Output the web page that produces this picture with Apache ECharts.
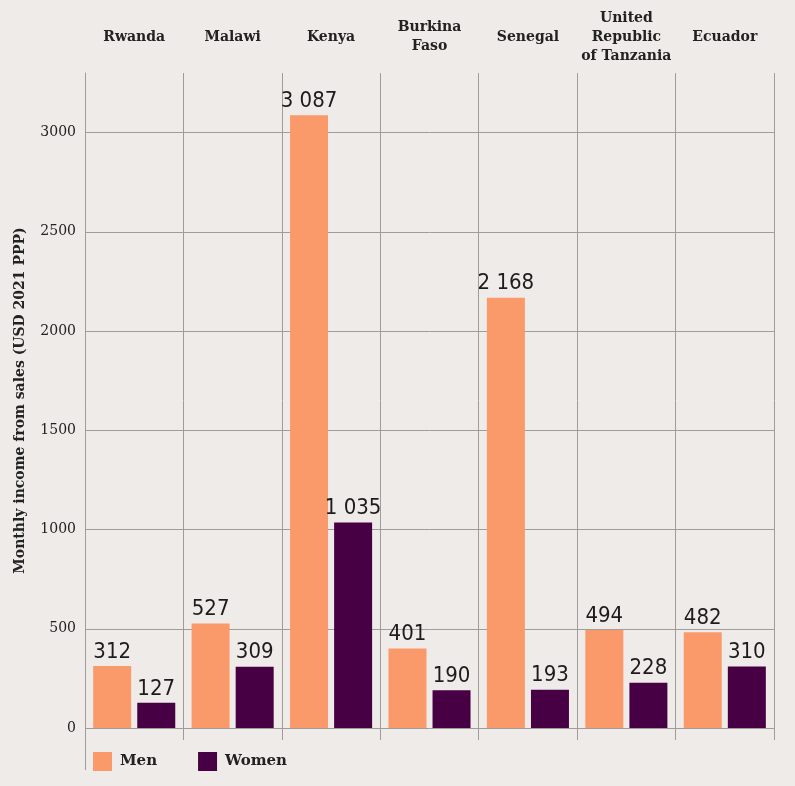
<!DOCTYPE html>
<html>
<head>
<meta charset="utf-8">
<script src="https://cdn.jsdelivr.net/npm/echarts@6/dist/echarts.min.js"></script>
<style>
  html, body { margin: 0; padding: 0; background: #efebe8; }
  #chart { width: 795px; height: 786px; }
</style>
</head>
<body>
<div id="chart"></div>
<script>
const countries = ['Rwanda', 'Malawi', 'Kenya', 'Burkina\nFaso', 'Senegal', 'United\nRepublic\nof Tanzania', 'Ecuador'];
const men = [312, 527, 3087, 401, 2168, 494, 482];
const women = [127, 309, 1035, 190, 193, 228, 310];
const yTicks = [0, 500, 1000, 1500, 2000, 2500, 3000];

const serif = "'DejaVu Serif', 'Liberation Serif', serif";
const narrow = "'Liberation Sans Narrow', 'DejaVu Sans Condensed', 'Roboto', sans-serif";
const grey = '#a09c99';

function fmt(v) {
  return String(v).replace(/\B(?=(\d{3})+(?!\d))/g, ' ');
}

const chart = echarts.init(document.getElementById('chart'), null, { renderer: 'canvas' });

const valueLabel = {
  show: true,
  position: 'top',
  distance: 3,
  fontFamily: narrow,
  fontWeight: 300,
  fontSize: 22,
  color: '#1c1c1c',
  formatter: p => fmt(p.value)
};

chart.setOption({
  animation: false,
  backgroundColor: '#efebe8',
  grid: { left: 85, right: 21, top: 73, bottom: 58 },
  legend: {
    left: 93,
    top: 752,
    padding: 0,
    itemWidth: 19,
    itemHeight: 19,
    itemGap: 41,
    icon: 'rect',
    textStyle: { fontFamily: serif, fontWeight: 'bold', fontSize: 15, color: '#222', padding: [0, 0, 0, 3] },
    data: ['Men', 'Women']
  },
  xAxis: [
    {
      type: 'category',
      position: 'top',
      data: countries,
      axisLine: { show: false },
      axisTick: { show: false },
      splitLine: { show: true, interval: 0, lineStyle: { color: grey, width: 1 } },
      axisLabel: {
        interval: 0,
        margin: 36,
        verticalAlign: 'middle',
        lineHeight: 19,
        fontFamily: serif,
        fontWeight: 'bold',
        fontSize: 14,
        color: '#222'
      }
    },
    {
      type: 'category',
      position: 'bottom',
      data: countries,
      axisLine: { show: false },
      axisTick: { show: true, interval: 0, length: 12, lineStyle: { color: grey, width: 1 } },
      axisLabel: { show: false }
    }
  ],
  yAxis: {
    type: 'value',
    min: 0,
    max: 3300,
    interval: 500,
    name: 'Monthly income from sales (USD 2021 PPP)',
    nameLocation: 'middle',
    nameGap: 58,
    nameTextStyle: { fontFamily: serif, fontWeight: 'bold', fontSize: 14, color: '#222' },
    axisLine: { show: true, lineStyle: { color: grey } },
    axisTick: { show: false },
    splitLine: { show: false },
    axisLabel: {
      showMaxLabel: false,
      margin: 9,
      fontFamily: serif,
      fontSize: 14,
      color: '#222',
      formatter: v => String(v)
    }
  },
  graphic: [
    {
      type: 'line',
      shape: { x1: 85.5, y1: 728, x2: 85.5, y2: 770 },
      style: { stroke: grey, lineWidth: 1 },
      silent: true
    }
  ],
  series: [
    {
      name: 'gridlines',
      type: 'line',
      data: [],
      z: 1,
      silent: true,
      markLine: {
        z: 1,
        silent: true,
        symbol: 'none',
        label: { show: false },
        emphasis: { disabled: true },
        lineStyle: { color: grey, type: 'solid', width: 1 },
        data: yTicks.map(v => ({ yAxis: v }))
      }
    },
    {
      name: 'Men',
      type: 'bar',
      data: men,
      barWidth: 38,
      barGap: '16%',
      itemStyle: { color: '#fa9a6a' },
      label: valueLabel,
      z: 3
    },
    {
      name: 'Women',
      type: 'bar',
      data: women,
      barWidth: 38,
      itemStyle: { color: '#470043' },
      label: valueLabel,
      z: 3
    }
  ]
});
</script>
</body>
</html>
